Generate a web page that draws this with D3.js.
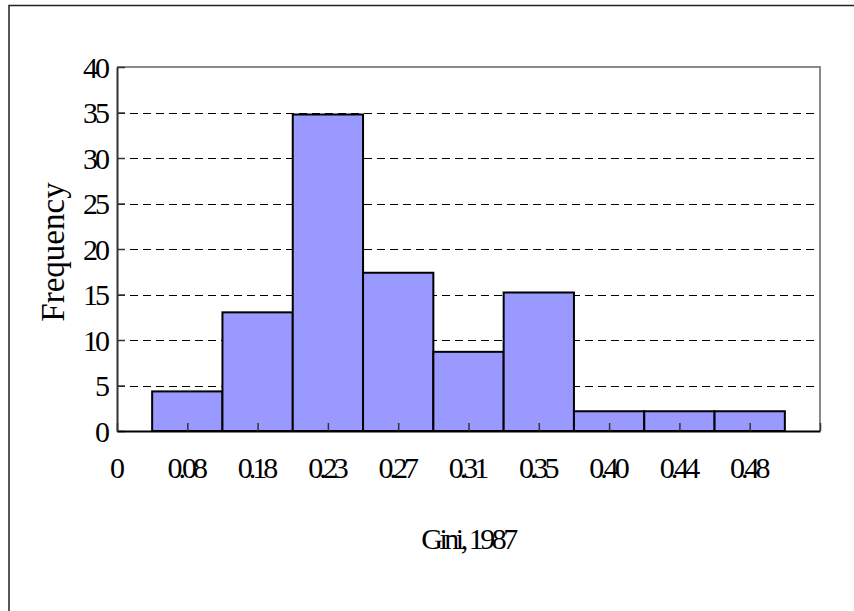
<!DOCTYPE html>
<html>
<head>
<meta charset="utf-8">
<script src="https://cdn.jsdelivr.net/npm/d3@7"></script>
<style>
  html, body { margin: 0; padding: 0; background: #fff; }
  svg { display: block; }
  text { font-family: "Liberation Serif", "Times New Roman", serif; fill: #000; }
</style>
</head>
<body>
<svg id="chart" width="854" height="611"></svg>
<script>
// Histogram of Gini coefficients (1987), share of observations per bin (%)
const tickLabels = ["0", "0.08", "0.18", "0.23", "0.27", "0.31", "0.35", "0.40", "0.44", "0.48"];
const frequency  = [0, 4.35, 13.04, 34.78, 17.39, 8.70, 15.22, 2.17, 2.17, 2.17];
const yTicks     = [0, 5, 10, 15, 20, 25, 30, 35, 40];
const xTitle = "Gini, 1987";
const yTitle = "Frequency";

const svg = d3.select("#chart");
const plot = { left: 117, right: 820, top: 67, bottom: 431 };

// outer chart frame
svg.append("rect")
  .attr("x", 9).attr("y", 5.5)
  .attr("width", 900).attr("height", 700)
  .attr("fill", "none").attr("stroke", "#222").attr("stroke-width", 1.5);

// one extra empty slot after the last labelled bin
const x = d3.scalePoint()
  .domain(d3.range(tickLabels.length + 1))
  .range([plot.left, plot.right]);
const step = x.step();

const y = d3.scaleLinear().domain([0, 40]).range([plot.bottom, plot.top]);

// plot area border (top / right)
svg.append("path")
  .attr("d", `M${plot.left},${plot.top}H${plot.right}V${plot.bottom}`)
  .attr("fill", "none").attr("stroke", "#8a8a8a").attr("stroke-width", 2);

// dashed gridlines
svg.append("g").selectAll("line")
  .data(yTicks.filter(v => v > 0 && v < 40))
  .join("line")
  .attr("x1", plot.left).attr("x2", plot.right - 2)
  .attr("y1", d => Math.round(y(d)) + 0.5).attr("y2", d => Math.round(y(d)) + 0.5)
  .attr("stroke", "#000").attr("stroke-width", 1)
  .attr("stroke-dasharray", "8,5");

// bars
svg.append("g").selectAll("rect")
  .data(frequency.map((v, i) => ({ i, v })).filter(d => d.v > 0))
  .join("rect")
  .attr("x", d => x(d.i) - step / 2)
  .attr("width", step)
  .attr("y", d => y(d.v))
  .attr("height", d => y(0) - y(d.v))
  .attr("fill", "#9999ff")
  .attr("stroke", "#000")
  .attr("stroke-width", 2);

// y axis
const yAxis = svg.append("g")
  .attr("transform", `translate(${plot.left},0)`)
  .call(d3.axisLeft(y).tickValues(yTicks).tickSize(-8).tickPadding(10).tickSizeOuter(0));
yAxis.select(".domain").attr("stroke", "#333").attr("stroke-width", 2);
yAxis.selectAll(".tick line").attr("stroke", "#333").attr("stroke-width", 1.5);
yAxis.selectAll(".tick text")
  .style("font-family", '"Liberation Serif", serif')
  .style("font-size", "30px")
  .style("letter-spacing", "-3px")
  .attr("dy", "0.34em");

// x axis
const xAxis = svg.append("g")
  .attr("transform", `translate(0,${plot.bottom})`)
  .call(d3.axisBottom(x).tickSize(-8).tickSizeOuter(0)
    .tickFormat(i => tickLabels[i] !== undefined ? tickLabels[i] : ""));
xAxis.select(".domain").attr("stroke", "#000").attr("stroke-width", 2);
xAxis.selectAll(".tick line").attr("stroke", "#333").attr("stroke-width", 1.5);
xAxis.selectAll(".tick text")
  .style("font-family", '"Liberation Serif", serif')
  .style("font-size", "30px")
  .style("letter-spacing", "-4px")
  .attr("x", -2)
  .attr("y", 47).attr("dy", 0);

// axis titles
svg.append("text")
  .attr("x", 468).attr("y", 549)
  .attr("text-anchor", "middle")
  .style("font-size", "30px")
  .style("letter-spacing", "-3.5px")
  .text(xTitle);

svg.append("text")
  .attr("transform", "translate(64,252) rotate(-90)")
  .attr("text-anchor", "middle")
  .style("font-size", "33px")
  .text(yTitle);
</script>
</body>
</html>
